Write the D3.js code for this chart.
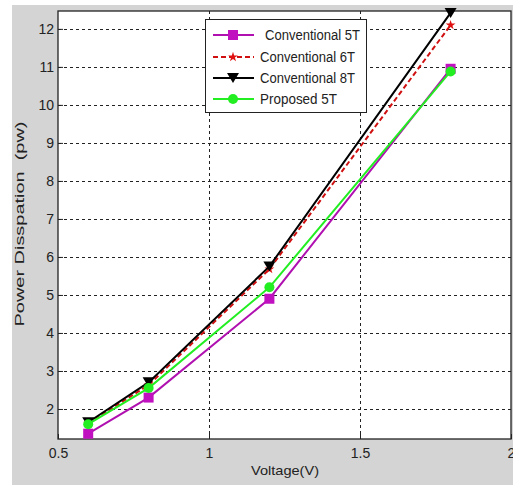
<!DOCTYPE html>
<html>
<head>
<meta charset="utf-8">
<script src="https://cdn.jsdelivr.net/npm/d3@7"></script>
<style>
  body { margin: 0; background: #fff; }
  svg { display: block; }
  text { font-family: "Liberation Sans", Arial, sans-serif; }
</style>
</head>
<body>
<svg width="513" height="485"></svg>
<script>
// voltage points on x axis
const voltages = [0.6, 0.8, 1.2, 1.8];

// power dissipation (pw) per design
const conv5T = [1.35, 2.3, 4.9, 10.95];
const conv6T = [1.62, 2.63, 5.68, 12.1];
const conv8T = [1.65, 2.7, 5.75, 12.42];
const prop5T = [1.6, 2.55, 5.2, 10.88];

const seriesNames = ["Conventional 5T", "Conventional 6T", "Conventional 8T", "Proposed 5T"];
const xTicks = [0.5, 1, 1.5, 2];
const yTicks = [2, 3, 4, 5, 6, 7, 8, 9, 10, 11, 12];

const svg = d3.select("svg");

// gray figure background
svg.append("rect")
   .attr("x", 12).attr("y", 5)
   .attr("width", 501).attr("height", 480)
   .attr("fill", "#d4d4d4");

const plotL = 58, plotR = 511, plotT = 11, plotB = 439;

const x = d3.scaleLinear().domain([0.5, 2]).range([plotL, plotR]);
const y = d3.scaleLinear().domain([1.21, 12.47]).range([plotB, plotT]);

svg.append("rect")
   .attr("x", plotL).attr("y", plotT)
   .attr("width", plotR - plotL).attr("height", plotB - plotT)
   .attr("fill", "white");

// dashed grid
const grid = svg.append("g").attr("stroke", "#222").attr("stroke-width", 1).attr("stroke-dasharray", "3,3");
grid.selectAll("line.h")
    .data(yTicks)
    .enter().append("line")
    .attr("x1", plotL).attr("x2", plotR)
    .attr("y1", d => Math.round(y(d)) + 0.5).attr("y2", d => Math.round(y(d)) + 0.5);
grid.selectAll("line.v")
    .data(xTicks.slice(1, -1))
    .enter().append("line")
    .attr("y1", plotT).attr("y2", plotB)
    .attr("x1", d => Math.round(x(d)) + 0.5).attr("x2", d => Math.round(x(d)) + 0.5);

// axes
const xAxis = svg.append("g")
   .attr("transform", `translate(0,${plotB})`)
   .call(d3.axisBottom(x).tickValues(xTicks).tickSize(-5).tickPadding(9).tickFormat(d3.format("")));
const yAxis = svg.append("g")
   .attr("transform", `translate(${plotL},0)`)
   .call(d3.axisLeft(y).tickValues(yTicks).tickSize(-5).tickPadding(4));
[xAxis, yAxis].forEach(a => {
    a.select(".domain").remove();
    a.selectAll("line").attr("stroke", "#222");
    a.selectAll("text").attr("font-size", 14).attr("fill", "#222")
     .attr("font-family", "'Liberation Sans', Arial, sans-serif");
});

// box
svg.append("rect")
   .attr("x", plotL).attr("y", plotT)
   .attr("width", plotR - plotL).attr("height", plotB - plotT)
   .attr("fill", "none").attr("stroke", "#222").attr("stroke-width", 1.3);

// axis titles
svg.append("text")
   .attr("x", 285).attr("y", 475)
   .attr("text-anchor", "middle").attr("font-size", 13).attr("fill", "#222")
   .attr("textLength", 68).attr("lengthAdjust", "spacingAndGlyphs")
   .text("Voltage(V)");
svg.append("text")
   .attr("transform", "translate(24,224) rotate(-90)")
   .attr("text-anchor", "middle").attr("font-size", 13).attr("fill", "#222")
   .attr("xml:space", "preserve")
   .attr("textLength", 205).attr("lengthAdjust", "spacingAndGlyphs")
   .text("Power Disspation  (pw)");

const styles = [
    { values: conv5T, color: "#b010b0", dash: null, marker: "square", mcolor: "#c010c0" },
    { values: conv6T, color: "#d01010", dash: "5,3", marker: "star", mcolor: "#e01010" },
    { values: conv8T, color: "#000000", dash: null, marker: "tri", mcolor: "#000000" },
    { values: prop5T, color: "#22ee22", dash: null, marker: "circle", mcolor: "#22ee22" }
];

function drawMarker(g, type, color) {
    if (type === "square") {
        g.append("rect").attr("x", -5).attr("y", -5).attr("width", 10).attr("height", 10).attr("fill", color);
    } else if (type === "circle") {
        g.append("circle").attr("r", 5).attr("fill", color);
    } else if (type === "tri") {
        g.append("path").attr("d", "M-6,-5L6,-5L0,5Z").attr("fill", color);
    } else {
        g.append("path").attr("d", d3.symbol(d3.symbolStar, 30)()).attr("fill", color);
    }
}

const line = d3.line().x(d => x(d[0])).y(d => y(d[1]));

styles.forEach(s => {
    const pts = voltages.map((v, i) => [v, s.values[i]]);
    svg.append("path")
       .datum(pts)
       .attr("d", line)
       .attr("fill", "none")
       .attr("stroke", s.color)
       .attr("stroke-width", 2)
       .attr("stroke-dasharray", s.dash);
    pts.forEach(p => {
        const g = svg.append("g").attr("transform", `translate(${x(p[0])},${y(p[1])})`);
        drawMarker(g, s.marker, s.mcolor);
    });
});

// legend
const legend = svg.append("g");
legend.append("rect")
   .attr("x", 205.5).attr("y", 19.5).attr("width", 161).attr("height", 93)
   .attr("fill", "white").attr("stroke", "#222").attr("stroke-width", 1);
const rowY = [35, 57, 78, 99];
styles.forEach((s, i) => {
    legend.append("line")
       .attr("x1", 213).attr("x2", 254)
       .attr("y1", rowY[i]).attr("y2", rowY[i])
       .attr("stroke", s.color).attr("stroke-width", 2)
       .attr("stroke-dasharray", s.dash);
    const g = legend.append("g").attr("transform", `translate(233,${rowY[i]})`);
    drawMarker(g, s.marker, s.mcolor);
    legend.append("text")
       .attr("x", i === 0 ? 265 : 260).attr("y", rowY[i] + 5)
       .attr("font-size", 14).attr("fill", "#222")
       .attr("textLength", i === 3 ? 77 : 95).attr("lengthAdjust", "spacingAndGlyphs")
       .text(seriesNames[i]);
});
</script>
</body>
</html>
